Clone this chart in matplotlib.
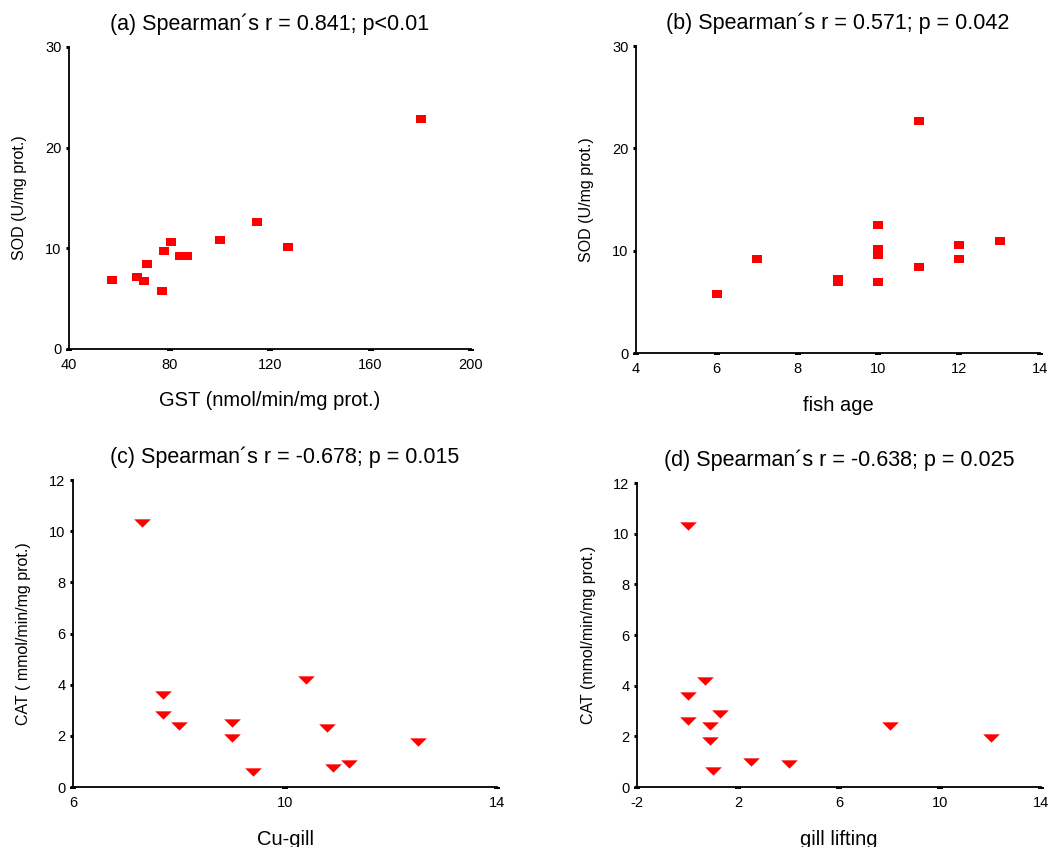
import matplotlib
matplotlib.use("Agg")
import matplotlib.pyplot as plt

plt.rcParams["font.family"] = ["Liberation Sans", "DejaVu Sans"]

# ---- data ----
gst = [57, 67, 70, 71, 77, 78, 80.5, 84, 87, 100, 115, 127, 180]
sod_a = [6.9, 7.2, 6.8, 8.4, 5.8, 9.7, 10.6, 9.2, 9.2, 10.8, 12.6, 10.1, 22.8]

age = [6, 7, 9, 9, 10, 10, 10, 10, 11, 11, 12, 12, 13]
sod_b = [5.8, 9.2, 7.2, 6.9, 12.5, 10.2, 9.6, 6.9, 22.7, 8.4, 10.6, 9.2, 10.9]

cu_gill = [7.3, 7.7, 7.7, 8.0, 9.0, 9.0, 9.4, 10.4, 10.8, 10.9, 11.2, 12.5]
cat_c = [10.3, 3.6, 2.8, 2.4, 2.5, 1.9, 0.6, 4.2, 2.3, 0.75, 0.9, 1.75]

gill_lift = [0, 0.7, 0, 0, 1.3, 0.9, 0.9, 1.0, 2.5, 4.0, 8.0, 12.0]
cat_d = [10.3, 4.2, 3.6, 2.6, 2.9, 2.4, 1.8, 0.65, 1.0, 0.9, 2.4, 1.95]

titles = [
    "(a) Spearman\u00b4s r = 0.841; p<0.01",
    "(b) Spearman\u00b4s r = 0.571; p = 0.042",
    "(c) Spearman\u00b4s r = -0.678; p = 0.015",
    "(d) Spearman\u00b4s r = -0.638; p = 0.025",
]
xlabels = ["GST (nmol/min/mg prot.)", "fish age", "Cu-gill", "gill lifting"]
ylabels = ["SOD (U/mg prot.)", "SOD (U/mg prot.)",
           "CAT ( mmol/min/mg prot.)", "CAT (mmol/min/mg prot.)"]

RED = "#ff0000"
square = [(-1, -0.85), (1, -0.85), (1, 0.85), (-1, 0.85)]
tri_down = [(-1, 0.5), (1, 0.5), (0, -0.5)]
dash_tick = [(-1, 0), (1, 0), (1, -0.45), (-1, -0.45)]   # x ticks drawn as little dashes

W, H = 1058, 847
fig = plt.figure(figsize=(W / 100, H / 100), dpi=100)


def px_axes(left, top, right, bottom):
    return fig.add_axes([left / W, 1 - bottom / H, (right - left) / W, (bottom - top) / H])


panels = [
    dict(box=(69, 47, 471, 349), x=gst, y=sod_a, m=square, ms=7,
         xlim=(40, 200), xt=[40, 80, 120, 160, 200], ylim=(0, 30), yt=[0, 10, 20, 30]),
    dict(box=(636, 46, 1040, 353), x=age, y=sod_b, m=square, ms=7,
         xlim=(4, 14), xt=[4, 6, 8, 10, 12, 14], ylim=(0, 30), yt=[0, 10, 20, 30]),
    dict(box=(73, 480, 497, 787), x=cu_gill, y=cat_c, m=tri_down, ms=12,
         xlim=(6, 14), xt=[6, 10, 14], ylim=(0, 12), yt=[0, 2, 4, 6, 8, 10, 12]),
    dict(box=(637, 483, 1041, 787), x=gill_lift, y=cat_d, m=tri_down, ms=12,
         xlim=(-2, 14), xt=[-2, 2, 6, 10, 14], ylim=(0, 12), yt=[0, 2, 4, 6, 8, 10, 12]),
]

for i, p in enumerate(panels):
    l, t, r, b = p["box"]
    ax = px_axes(l, t, r, b)
    ax.scatter(p["x"], p["y"], marker=p["m"], s=p["ms"] ** 2, color=RED,
               linewidths=0, zorder=3, clip_on=False)
    ax.set_xlim(*p["xlim"])
    ax.set_ylim(*p["ylim"])
    ax.set_xticks(p["xt"])
    ax.set_yticks(p["yt"])
    ax.set_xticklabels([str(v) for v in p["xt"]])
    ax.set_yticklabels([str(v) for v in p["yt"]])
    for s in ["top", "right"]:
        ax.spines[s].set_visible(False)
    for s in ["left", "bottom"]:
        ax.spines[s].set_linewidth(1.3)
    ax.tick_params(axis="y", direction="out", length=2.5, width=2.2,
                   labelsize=10.5, pad=3)
    ax.tick_params(axis="x", labelsize=10.5, pad=3)
    for tk in ax.xaxis.get_major_ticks():
        tk.tick1line.set_marker(dash_tick)
        tk.tick1line.set_markersize(5)
        tk.tick1line.set_markerfacecolor("k")
        tk.tick1line.set_markeredgewidth(0)
    ax.set_title(titles[i], fontsize=15.5, pad=12)
    ax.set_xlabel(xlabels[i], fontsize=14.5, va="center")
    ax.xaxis.set_label_coords(0.5, -52 / (b - t))
    ax.set_ylabel(ylabels[i], fontsize=11.5, va="center")
    ax.yaxis.set_label_coords(-49 / (r - l), 0.5)

fig.savefig("out.png", dpi=100)
